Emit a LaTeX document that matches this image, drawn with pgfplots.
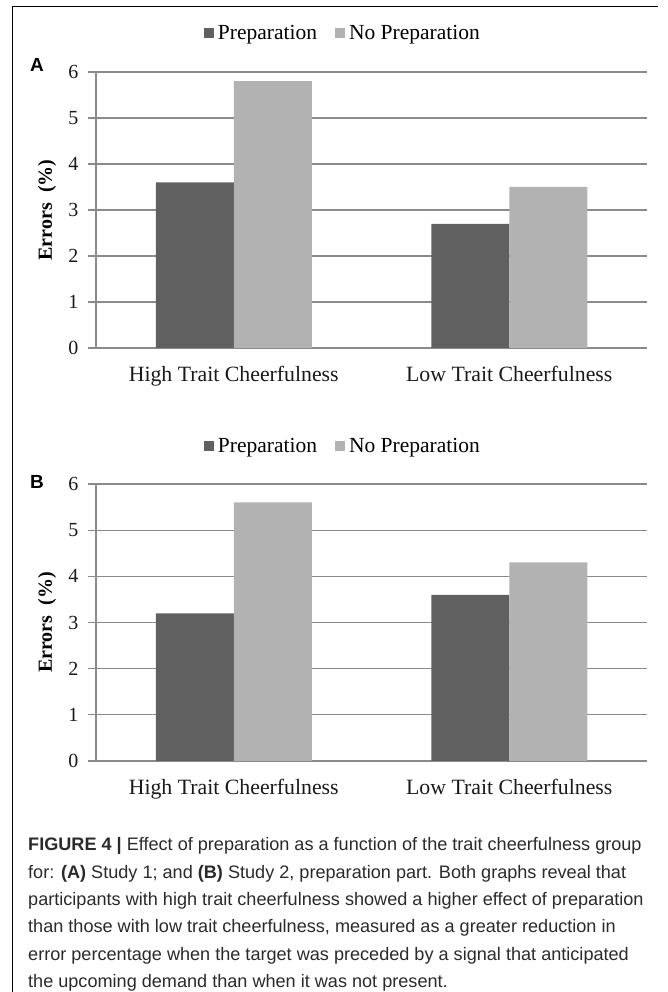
\documentclass[border=0pt]{standalone}
\usepackage{fontspec}
\setmainfont{Liberation Serif}
\newfontfamily\capfont{Liberation Sans}
\usepackage{pgfplots}
\pgfplotsset{compat=1.18}

\definecolor{prep}{HTML}{606060}
\definecolor{noprep}{HTML}{B2B2B2}
\definecolor{gridc}{HTML}{8A8A8A}
\definecolor{captxt}{HTML}{2A2A2A}

\pgfplotsset{
  errbars/.style={
    scale only axis,
    width=551bp, height=276bp,
    anchor=south west,
    ybar=0pt, bar width=78bp,
    xmin=-0.5, xmax=1.5,
    ymin=0, ymax=6,
    xtick={0,1},
    xticklabels={High Trait Cheerfulness, Low Trait Cheerfulness},
    ytick={0,1,2,3,4,5,6},
    axis x line*=bottom, axis y line*=left,
    axis line style={gridc, line width=1.2bp, -},
    ymajorgrids, grid style={gridc, line width=1.2bp},
    xtick style={draw=none},
    ytick style={gridc, line width=1.2bp},
    tick align=outside, major tick length=8bp,
    /pgf/number format/assume math mode=true,
    xticklabel style={font=\fontsize{21.8bp}{25bp}\selectfont, anchor=base, yshift=-26bp, text=black!90},
    yticklabel style={font=\fontsize{20bp}{23bp}\selectfont, text=black!90, xshift=-6bp},
    ylabel={\textbf{Errors\ \ (\%)}},
    every axis y label/.style={at={(rel axis cs:0,0.5)}, xshift=-49bp, rotate=90, anchor=center,
      font=\fontsize{20bp}{24bp}\selectfont},
    legend columns=2,
    legend style={draw=none, fill=none, anchor=center,
      font=\fontsize{21.5bp}{24bp}\selectfont,
      /tikz/every odd column/.append style={column sep=2bp},
      /tikz/every even column/.append style={column sep=16bp}},
    legend image code/.code={\fill[##1] (0bp,-5bp) rectangle (10bp,5bp);},
    every axis plot/.append style={draw=none},
  }
}

\begin{document}
\begin{tikzpicture}
\path[use as bounding box] (0,0) rectangle (668bp,992bp);
% frame
\draw[black, line width=1bp] (12bp,0bp) -- (12bp,985bp) -- (658bp,985bp);

% panel A
\begin{axis}[errbars, at={(96bp,644bp)},
  legend style={at={(0.448,1.141)}}]
\addplot[fill=prep] coordinates {(0,3.6) (1,2.7)};
\addplot[fill=noprep] coordinates {(0,5.8) (1,3.5)};
\legend{Preparation, No Preparation}
\end{axis}

% panel B
\begin{axis}[errbars, at={(96bp,231bp)}, height=277bp,
  legend style={at={(0.448,1.137)}}]
\addplot[fill=prep] coordinates {(0,3.2) (1,3.6)};
\addplot[fill=noprep] coordinates {(0,5.6) (1,4.3)};
\legend{Preparation, No Preparation}
\end{axis}

\node[font=\capfont\bfseries\fontsize{19bp}{22bp}\selectfont] at (37bp,927bp) {A};
\node[font=\capfont\bfseries\fontsize{19bp}{22bp}\selectfont] at (37bp,510bp) {B};

% caption
\begin{scope}[every node/.style={anchor=base west, inner sep=0pt, text=captxt,
    font=\capfont\fontsize{18.1bp}{20bp}\selectfont}]
\node at (28bp,141bp) {\textbf{FIGURE 4 |} Effect of preparation as a function of the trait cheerfulness group};
\node at (28bp,113.7bp) {for: \textbf{(A)} Study 1; and \textbf{(B)} Study 2, preparation part. Both graphs reveal that};
\node at (28bp,86.4bp) {participants with high trait cheerfulness showed a higher effect of preparation};
\node at (28bp,59.1bp) {than those with low trait cheerfulness, measured as a greater reduction in};
\node at (28bp,31.8bp) {error percentage when the target was preceded by a signal that anticipated};
\node at (28bp,4.5bp) {the upcoming demand than when it was not present.};
\end{scope}
\end{tikzpicture}
\end{document}
